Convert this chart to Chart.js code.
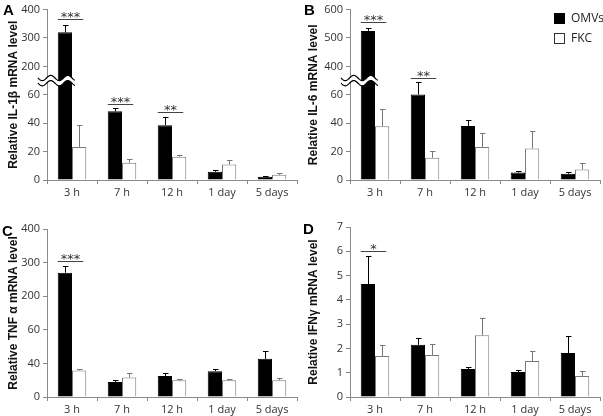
<!DOCTYPE html>
<html>
<head>
<meta charset="utf-8">
<script src="https://cdn.jsdelivr.net/npm/chart.js@4.4.0/dist/chart.umd.min.js"></script>
<style>
body { margin: 0; background: #fff; }
#wrap { position: relative; width: 603px; height: 416px; }
#wrap canvas { position: absolute; }
.tag { position: absolute; font: bold 15px "Liberation Sans", Arial, sans-serif; color: #000; line-height: 1; }
</style>
</head>
<body>
<div id="wrap">
  <canvas id="chartA" width="300" height="200" style="left:0;top:0"></canvas>
  <canvas id="chartB" width="303" height="200" style="left:300px;top:0"></canvas>
  <canvas id="chartC" width="300" height="216" style="left:0;top:200px"></canvas>
  <canvas id="chartD" width="303" height="216" style="left:300px;top:200px"></canvas>
  <div class="tag" style="left:3px;top:2px">A</div>
  <div class="tag" style="left:304px;top:2px">B</div>
  <div class="tag" style="left:2px;top:223px">C</div>
  <div class="tag" style="left:303px;top:221px">D</div>
</div>
<script>
const categories = ['3 h', '7 h', '12 h', '1 day', '5 days'];

// A: IL-1b
const ticksA = [0, 20, 40, 60, 200, 300, 400];
const omvA = [320, 48.4, 38.6, 5.8, 2.3];
const omvErrA = [26, 2.3, 5.6, 0.9, 0.7];
const fkcA = [23.3, 12.1, 16.3, 10.9, 3.7];
const fkcErrA = [15.3, 2.8, 1.4, 3.5, 1.2];
const sigA = [[0, 367, '***'], [1, 53.5, '***'], [2, 47.7, '**']];

// B: IL-6
const ticksB = [0, 20, 40, 60, 400, 500, 600];
const omvB = [525, 60.2, 38.1, 5.3, 4.4];
const omvErrB = [9.5, 8.8, 4.2, 1.2, 1.2];
const fkcB = [37.9, 15.6, 23.3, 22.1, 7.4];
const fkcErrB = [12.1, 5.1, 9.7, 12.6, 4.7];
const sigB = [[0, 558, '***'], [1, 71.6, '**']];

// C: TNF a
const ticksC = [0, 40, 60, 200, 300, 400];
const omvC = [270, 18, 25.1, 30.8, 42.7];
const omvErrC = [19, 2, 3.2, 2, 4.8];
const fkcC = [31.6, 23.2, 20, 20, 20];
const fkcErrC = [1.2, 4.8, 2, 2, 3.2];
const sigC = [[0, 304, '***']];

// D: IFNg
const ticksD = [0, 1, 2, 3, 4, 5, 6, 7];
const omvD = [4.65, 2.15, 1.15, 1.03, 1.81];
const omvErrD = [1.14, 0.28, 0.09, 0.08, 0.7];
const fkcD = [1.69, 1.73, 2.54, 1.48, 0.86];
const fkcErrD = [0.45, 0.44, 0.71, 0.41, 0.2];
const sigD = [[0, 6.01, '*']];

Chart.defaults.font.family = '"Open Sans", "Noto Sans", sans-serif';
Chart.defaults.color = '#333';

// piecewise linear map: each tick label sits on a whole step of the axis.
// with a break, the segment below and the one above carry on up to the cut.
function makeMap(knots, breakAt) {
    const plain = function(v) {
        for (let i = 0; i < knots.length - 1; i++) {
            if (v <= knots[i + 1]) return i + (v - knots[i]) / (knots[i + 1] - knots[i]);
        }
        return knots.length - 1;
    };
    if (breakAt === undefined) return plain;
    const i = Math.floor(breakAt);
    const cut = breakAt + 0.1;
    return function(v) {
        if (v <= knots[i] || v >= knots[i + 1]) return plain(v);
        const lower = i + (v - knots[i]) / (knots[i] - knots[i - 1]);
        if (lower <= cut) return lower;
        const upper = i + 1 - (knots[i + 1] - v) / (knots[i + 2] - knots[i + 1]);
        return Math.max(cut, upper);
    };
}

const decor = {
    id: 'decor',
    afterDatasetsDraw(chart, args, opts) {
        const ctx = chart.ctx;
        const y = chart.scales.y;
        const f = opts.f;
        const area = chart.chartArea;
        ctx.save();
        ctx.lineWidth = 1;

        // error bars (upper whisker only)
        chart.data.datasets.forEach((ds, di) => {
            const meta = chart.getDatasetMeta(di);
            meta.data.forEach((bar, i) => {
                const top = Math.round(y.getPixelForValue(f(ds.raw[i] + ds.err[i]))) + 0.5;
                const x = Math.round(bar.x) + 0.5;
                ctx.strokeStyle = ds.errColor;
                ctx.beginPath();
                ctx.moveTo(x, bar.y);
                ctx.lineTo(x, top);
                ctx.moveTo(x - 2.5, top);
                ctx.lineTo(x + 3, top);
                ctx.stroke();
            });
        });

        // significance bars
        const m0 = chart.getDatasetMeta(0), m1 = chart.getDatasetMeta(1);
        (opts.sig || []).forEach(s => {
            const b0 = m0.data[s[0]], b1 = m1.data[s[0]];
            const x1 = b0.x - b0.width / 2;
            const x2 = b1.x + b1.width / 2 - 3;
            const yy = Math.round(y.getPixelForValue(f(s[1]))) + 0.5;
            ctx.strokeStyle = '#444';
            ctx.beginPath();
            ctx.moveTo(x1, yy);
            ctx.lineTo(x2, yy);
            ctx.stroke();
            ctx.fillStyle = '#333';
            ctx.font = '13px "DejaVu Sans", sans-serif';
            ctx.textAlign = 'center';
            ctx.textBaseline = 'alphabetic';
            const m = ctx.measureText(s[2]);
            ctx.fillText(s[2], (x1 + x2) / 2, yy - 1.5 - m.actualBoundingBoxDescent);
        });

        // axis break symbol
        if (opts.breakAt !== undefined) {
            const b0 = m0.data[0];
            const cy = y.getPixelForValue(opts.breakAt);
            const xa = area.left - 9, xb = b0.x + b0.width / 2 + 3;
            const wave = (off) => {
                const pts = [];
                for (let x = xa; x <= xb; x += 0.5) {
                    pts.push([x, cy + off + 2.6 * Math.sin((x - xa) / 17 * 2 * Math.PI)]);
                }
                return pts;
            };
            const up = wave(-2.6), dn = wave(2.6);
            ctx.fillStyle = '#fff';
            ctx.beginPath();
            up.forEach((p, i) => i ? ctx.lineTo(p[0], p[1]) : ctx.moveTo(p[0], p[1]));
            dn.slice().reverse().forEach(p => ctx.lineTo(p[0], p[1]));
            ctx.closePath();
            ctx.fill();
            ctx.strokeStyle = '#000';
            ctx.lineWidth = 1.2;
            [up, dn].forEach(line => {
                ctx.beginPath();
                line.forEach((p, i) => i ? ctx.lineTo(p[0], p[1]) : ctx.moveTo(p[0], p[1]));
                ctx.stroke();
            });
        }

        // legend
        if (opts.legend) {
            ctx.font = '12px "Open Sans", sans-serif';
            ctx.textAlign = 'left';
            ctx.textBaseline = 'middle';
            chart.data.datasets.forEach((ds, di) => {
                const ly = 13 + di * 20;
                ctx.fillStyle = ds.backgroundColor;
                ctx.fillRect(254.5, ly + 0.5, 10, 10);
                ctx.strokeStyle = di ? '#333' : '#000';
                ctx.lineWidth = 1;
                ctx.strokeRect(254.5, ly + 0.5, 10, 10);
                ctx.fillStyle = '#222';
                ctx.fillText(ds.label, 271, ly + 5.5);
            });
        }
        ctx.restore();
    }
};

function makeChart(id, title, knots, omv, omvErr, fkc, fkcErr, sig, pad, xHeight, yWidth, breakAt, legend) {
    const f = makeMap(knots, breakAt);
    new Chart(document.getElementById(id), {
        type: 'bar',
        data: {
            labels: categories,
            datasets: [
                {
                    label: 'OMVs',
                    data: omv.map(f),
                    raw: omv,
                    err: omvErr,
                    errColor: '#000',
                    backgroundColor: '#000',
                    borderColor: '#000',
                    borderWidth: 1,
                    categoryPercentage: 0.57,
                    barPercentage: 1.0
                },
                {
                    label: 'FKC',
                    data: fkc.map(f),
                    raw: fkc,
                    err: fkcErr,
                    errColor: '#777',
                    backgroundColor: '#fff',
                    borderColor: '#7a7a7a',
                    borderWidth: 1,
                    categoryPercentage: 0.57,
                    barPercentage: 1.0
                }
            ]
        },
        options: {
            responsive: false,
            animation: false,
            layout: { padding: pad },
            plugins: {
                legend: { display: false },
                tooltip: { enabled: false },
                decor: { f: f, sig: sig, breakAt: breakAt, legend: legend }
            },
            scales: {
                x: {
                    offset: true,
                    grid: { offset: true, drawOnChartArea: false, drawTicks: true, tickLength: 4, color: '#8a8a8a' },
                    border: { color: '#8a8a8a' },
                    ticks: { font: { size: 11 }, color: '#333', padding: 2, maxRotation: 0 },
                    afterFit: s => { s.height = xHeight; }
                },
                y: {
                    min: 0,
                    max: knots.length - 1,
                    grid: { drawOnChartArea: false, drawTicks: true, tickLength: 4, color: '#8a8a8a' },
                    border: { color: '#8a8a8a' },
                    ticks: {
                        stepSize: 1,
                        font: { size: 11 },
                        color: '#333',
                        padding: 3,
                        callback: v => knots[v] !== undefined ? knots[v] : ''
                    },
                    title: {
                        display: true,
                        text: title,
                        font: { family: '"Liberation Sans", Arial, sans-serif', size: 12, weight: 'bold' },
                        color: '#111',
                        padding: { top: 6, bottom: 0 }
                    },
                    afterFit: s => { s.width = yWidth; }
                }
            }
        },
        plugins: [decor]
    });
}

makeChart('chartA', 'Relative IL-1\u03b2 mRNA level', ticksA, omvA, omvErrA, fkcA, fkcErrA, sigA,
    { top: 8, right: 3, left: 0, bottom: 0 }, 20, 47, 3.5, false);
makeChart('chartB', 'Relative IL-6 mRNA level', ticksB, omvB, omvErrB, fkcB, fkcErrB, sigB,
    { top: 8, right: 3, left: 0, bottom: 0 }, 20, 50, 3.5, true);
makeChart('chartC', 'Relative TNF \u03b1 mRNA level', ticksC, omvC, omvErrC, fkcC, fkcErrC, sigC,
    { top: 29, right: 3, left: 0, bottom: 0 }, 19, 47, undefined, false);
makeChart('chartD', 'Relative IFN\u03b3 mRNA level', ticksD, omvD, omvErrD, fkcD, fkcErrD, sigD,
    { top: 27, right: 3, left: 0, bottom: 0 }, 19, 50, undefined, false);
</script>
</body>
</html>
